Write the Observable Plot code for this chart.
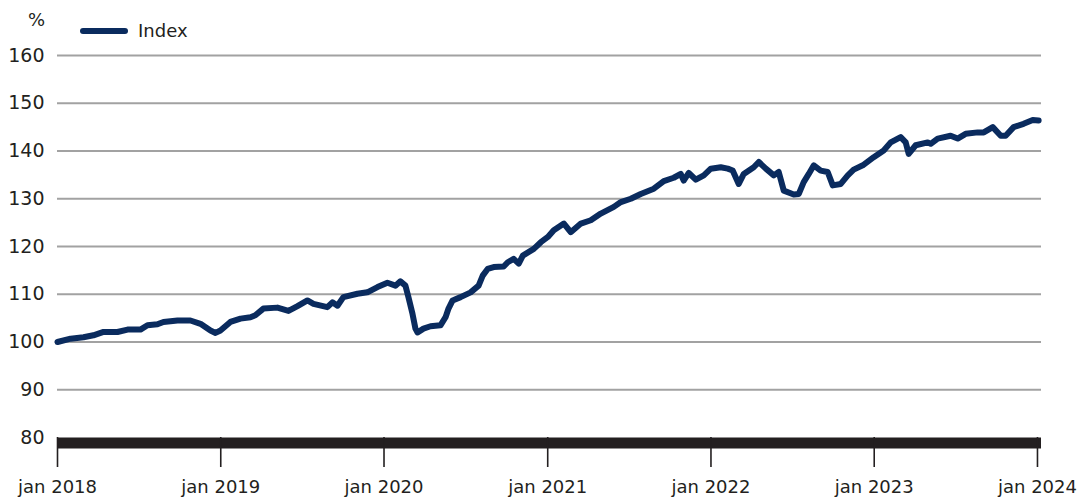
<!DOCTYPE html>
<html>
<head>
<meta charset="utf-8">
<script src="https://cdn.jsdelivr.net/npm/d3@7"></script>
<script src="https://cdn.jsdelivr.net/npm/@observablehq/plot@0.6"></script>
<style>
  html, body { margin: 0; padding: 0; background: #ffffff; }
  #wrap { position: relative; width: 1086px; height: 497px; font-family: "DejaVu Sans", sans-serif; color: #231f20; }
  .unit { position: absolute; left: 28px; top: 9px; font-size: 18px; line-height: 22px; }
  .legend { position: absolute; left: 80px; top: 20px; height: 22px; display: flex; align-items: center; font-size: 18px; line-height: 22px; }
  .swatch { display: inline-block; width: 48px; height: 6px; border-radius: 3px; background: #0a2b5e; }
  .legend .lbl { margin-left: 10px; }
  svg { position: absolute; left: 0; top: 0; }
</style>
</head>
<body>
<div id="wrap">
  <div class="unit">%</div>
  <div class="legend"><span class="swatch"></span><span class="lbl">Index</span></div>
</div>
<script>
// Series: time as decimal year, index value (%)
const seriesName = "Index";
const times = [
  2018.000, 2018.080, 2018.159, 2018.220, 2018.282, 2018.367, 2018.429, 2018.508, 2018.551, 2018.612,
  2018.649, 2018.735, 2018.814, 2018.876, 2018.937, 2018.968, 2018.998, 2019.059, 2019.121, 2019.182,
  2019.212, 2019.261, 2019.347, 2019.415, 2019.470, 2019.531, 2019.568, 2019.653, 2019.684, 2019.715,
  2019.751, 2019.837, 2019.898, 2019.960, 2020.021, 2020.070, 2020.100, 2020.131, 2020.149, 2020.174,
  2020.192, 2020.205, 2020.241, 2020.284, 2020.345, 2020.376, 2020.394, 2020.419, 2020.468, 2020.529,
  2020.578, 2020.603, 2020.633, 2020.670, 2020.731, 2020.756, 2020.792, 2020.823, 2020.848, 2020.915,
  2020.958, 2021.001, 2021.037, 2021.099, 2021.141, 2021.203, 2021.264, 2021.325, 2021.405, 2021.448,
  2021.509, 2021.570, 2021.650, 2021.711, 2021.772, 2021.815, 2021.833, 2021.864, 2021.907, 2021.956,
  2021.999, 2022.060, 2022.103, 2022.133, 2022.170, 2022.201, 2022.262, 2022.293, 2022.336, 2022.385,
  2022.415, 2022.446, 2022.507, 2022.538, 2022.568, 2022.599, 2022.630, 2022.672, 2022.715, 2022.746,
  2022.795, 2022.838, 2022.874, 2022.930, 2022.997, 2023.058, 2023.101, 2023.162, 2023.193, 2023.211,
  2023.254, 2023.328, 2023.346, 2023.389, 2023.468, 2023.511, 2023.560, 2023.634, 2023.671, 2023.726,
  2023.775, 2023.805, 2023.854, 2023.915, 2023.971, 2024.007
];
const values = [
  100.0, 100.7, 101.0, 101.4, 102.1, 102.1, 102.6, 102.6, 103.5, 103.7,
  104.2, 104.5, 104.5, 103.8, 102.4, 101.9, 102.4, 104.2, 104.9, 105.2,
  105.6, 107.0, 107.2, 106.5, 107.5, 108.7, 108.0, 107.3, 108.3, 107.6,
  109.4, 110.1, 110.4, 111.5, 112.4, 111.8, 112.7, 111.8, 109.4, 105.9,
  102.8, 102.0, 102.8, 103.3, 103.5, 105.2, 107.0, 108.7, 109.4, 110.4,
  111.8, 113.9, 115.3, 115.7, 115.8, 116.7, 117.4, 116.4, 118.1, 119.5,
  120.9, 122.0, 123.4, 124.8, 123.0, 124.8, 125.5, 126.9, 128.3, 129.3,
  130.0, 131.0, 132.1, 133.7, 134.4, 135.2, 133.8, 135.4, 134.0, 134.9,
  136.3, 136.6, 136.3, 135.9, 133.1, 135.2, 136.6, 137.7, 136.3, 134.9,
  135.6, 131.7, 130.9, 131.0, 133.5, 135.2, 137.0, 135.9, 135.6, 132.8,
  133.1, 134.9, 136.1, 137.0, 138.7, 140.1, 141.8, 142.9, 141.8, 139.4,
  141.2, 141.8, 141.5, 142.6, 143.2, 142.6, 143.6, 143.9, 143.9, 145.0,
  143.2, 143.2, 145.0, 145.7, 146.5, 146.4
];
const yTicks = [80, 90, 100, 110, 120, 130, 140, 150, 160];
const tickYears = [2018, 2019, 2020, 2021, 2022, 2023, 2024];
const tickPrefix = "jan";

function yearToDate(t) {
  const y = Math.floor(t);
  const start = Date.UTC(y, 0, 1), end = Date.UTC(y + 1, 0, 1);
  return new Date(start + (t - y) * (end - start));
}
const data = times.map((t, i) => ({date: yearToDate(t), value: values[i], series: seriesName}));
const xTicks = tickYears.map(y => new Date(Date.UTC(y, 0, 1)));

const ink = "#231f20";
const chart = Plot.plot({
  width: 1086,
  height: 497,
  marginTop: 55,
  marginBottom: 60,
  marginLeft: 57,
  marginRight: 45,
  style: {fontFamily: "DejaVu Sans, sans-serif", fontSize: "18px", color: ink, background: "transparent"},
  x: {type: "utc", domain: [new Date(Date.UTC(2018, 0, 1)), new Date(Date.UTC(2024, 0, 10))]},
  y: {domain: [80, 160]},
  marks: [
    Plot.gridY(yTicks.filter(v => v > 80), {stroke: "#a2a2a2", strokeOpacity: 1, strokeWidth: 2}),
    Plot.axisY(yTicks, {tickSize: 0, tickPadding: 13, fontSize: 19, fill: ink, label: null}),
    Plot.ruleY([80], {stroke: ink, strokeWidth: 11, dy: 5.5}),
    Plot.axisX(xTicks, {tickSize: 30, tickPadding: 13, stroke: ink, strokeWidth: 1.6, fill: ink, fontSize: 18,
      tickFormat: d => `${tickPrefix} ${d.getUTCFullYear()}`, label: null}),
    Plot.line(data, {x: "date", y: "value", stroke: "#0a2b5e", strokeWidth: 6,
      strokeLinejoin: "round", strokeLinecap: "round"})
  ]
});
document.getElementById("wrap").appendChild(chart);
</script>
</body>
</html>
